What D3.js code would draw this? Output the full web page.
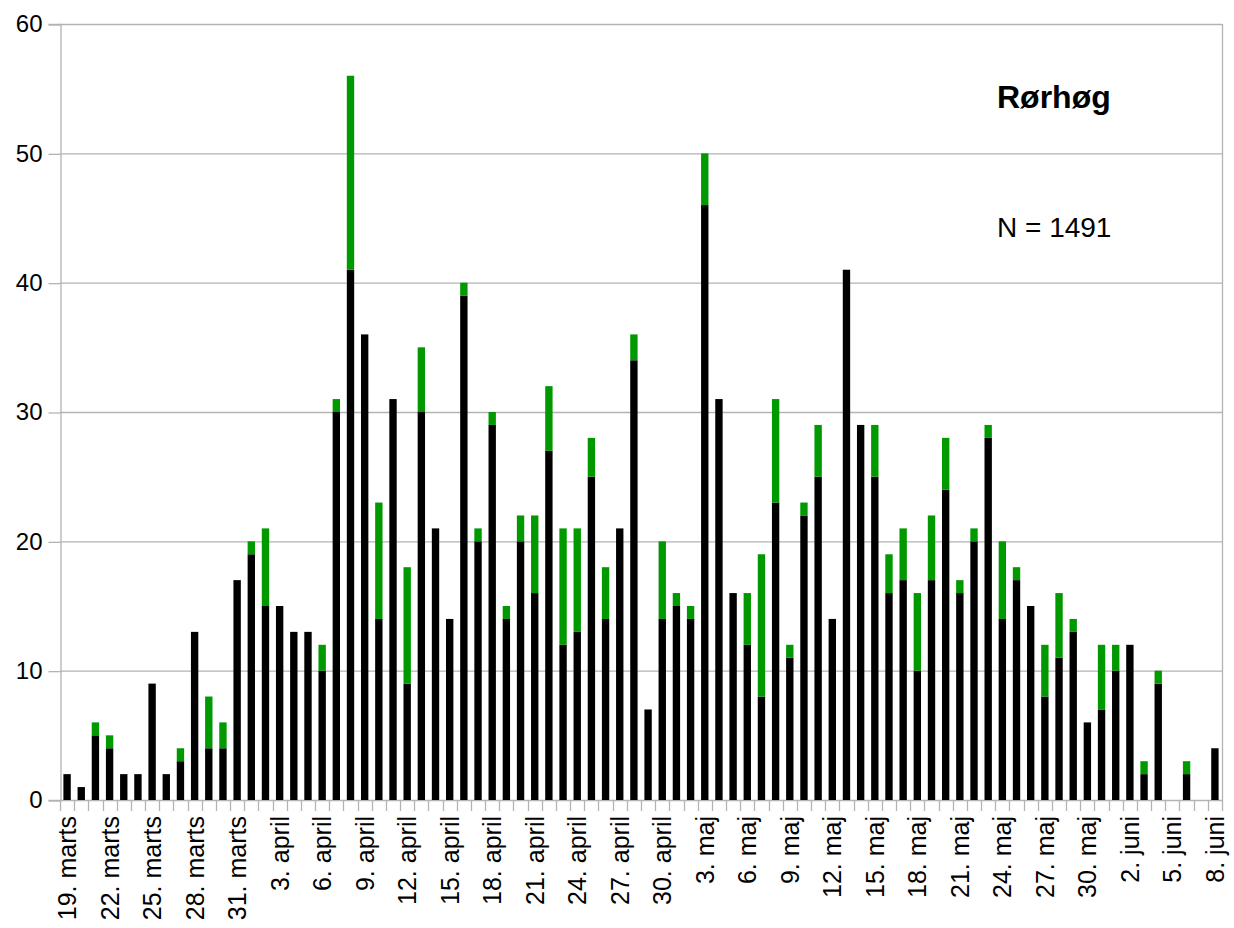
<!DOCTYPE html>
<html>
<head>
<meta charset="utf-8">
<title>Rørhøg</title>
<script src="https://d3js.org/d3.v7.min.js"></script>
<style>
  body { margin: 0; background: #fff; }
  text { font-family: "Liberation Sans", Arial, sans-serif; fill: #000; }
</style>
</head>
<body>
<div id="container"></div>
<script>

// one category per day, 19. marts - 8. juni
var days = [
  "19. marts","20. marts","21. marts","22. marts","23. marts","24. marts","25. marts","26. marts","27. marts","28. marts","29. marts","30. marts","31. marts",
  "1. april","2. april","3. april","4. april","5. april","6. april","7. april","8. april","9. april","10. april","11. april","12. april","13. april","14. april","15. april",
  "16. april","17. april","18. april","19. april","20. april","21. april","22. april","23. april","24. april","25. april","26. april","27. april","28. april","29. april","30. april",
  "1. maj","2. maj","3. maj","4. maj","5. maj","6. maj","7. maj","8. maj","9. maj","10. maj","11. maj","12. maj","13. maj","14. maj","15. maj","16. maj",
  "17. maj","18. maj","19. maj","20. maj","21. maj","22. maj","23. maj","24. maj","25. maj","26. maj","27. maj","28. maj","29. maj","30. maj","31. maj",
  "1. juni","2. juni","3. juni","4. juni","5. juni","6. juni","7. juni","8. juni"
];

// black part of each bar
var blackCounts = [
  2,1,5,4,2,2,9,2,3,13,4,4,17,
  19,15,15,13,13,10,30,41,36,14,31,9,30,21,14,
  39,20,29,14,20,16,27,12,13,25,14,21,34,7,14,
  15,14,46,31,16,12,8,23,11,22,25,14,41,29,25,16,
  17,10,17,24,16,20,28,14,17,15,8,11,13,6,7,
  10,12,2,9,0,2,0,4
];

// green part stacked on top
var greenCounts = [
  0,0,1,1,0,0,0,0,1,0,4,2,0,
  1,6,0,0,0,2,1,15,0,9,0,9,5,0,0,
  1,1,1,1,2,6,5,9,8,3,4,0,2,0,6,
  1,1,4,0,0,4,11,8,1,1,4,0,0,0,4,3,
  4,6,5,4,1,1,1,6,1,0,4,5,1,0,5,
  2,0,1,1,0,1,0,0
];

var yTicks = [0, 10, 20, 30, 40, 50, 60];

var tickLabels = [
  "19. marts","22. marts","25. marts","28. marts","31. marts",
  "3. april","6. april","9. april","12. april","15. april","18. april","21. april","24. april","27. april","30. april",
  "3. maj","6. maj","9. maj","12. maj","15. maj","18. maj","21. maj","24. maj","27. maj","30. maj",
  "2. juni","5. juni","8. juni"
];

var title = "Rørhøg";
var note = "N = 1491";

var width = 1234;
var height = 928;
// plot box (pixels)
var plotLeft = 60, plotRight = 1222, plotTop = 24, plotBottom = 800;
var gridColor = "#b3b3b3";

var svg = d3.select("#container").append("svg")
    .attr("width", width)
    .attr("height", height);

var x = d3.scaleBand()
    .domain(days)
    .range([plotLeft, plotRight])
    .paddingInner(0.48)
    .paddingOuter(0.24);

var y = d3.scaleLinear()
    .domain([0, 60])
    .range([plotBottom, plotTop]);

// horizontal grid
svg.append("g")
    .selectAll("line")
    .data(yTicks)
    .enter().append("line")
    .attr("x1", plotLeft)
    .attr("x2", plotRight)
    .attr("y1", function(d) { return y(d) + 0.5; })
    .attr("y2", function(d) { return y(d) + 0.5; })
    .attr("stroke", gridColor)
    .attr("stroke-width", 1.3);

// y axis with short ticks to the left
var yAxis = svg.append("g")
    .attr("transform", "translate(" + (plotLeft + 0.5) + ",0)")
    .call(d3.axisLeft(y).tickValues(yTicks).tickSize(12).tickPadding(6));
yAxis.select(".domain").attr("stroke", gridColor).attr("stroke-width", 1.3);
yAxis.selectAll(".tick line").attr("stroke", gridColor).attr("stroke-width", 1.3)
    .attr("transform", "translate(0,0.5)");
yAxis.selectAll(".tick text")
    .attr("font-size", "24px")
    .attr("font-family", "Liberation Sans, Arial, sans-serif")
    .attr("fill", "#000");

// right border of the plot
svg.append("line")
    .attr("x1", plotRight + 0.5).attr("x2", plotRight + 0.5)
    .attr("y1", plotTop).attr("y2", plotBottom)
    .attr("stroke", gridColor)
    .attr("stroke-width", 1.3);

// stacked bars
var rows = days.map(function(d, i) {
  return { day: d, black: blackCounts[i], green: greenCounts[i] };
});
var stack = d3.stack().keys(["black", "green"]);
var colors = { black: "#000000", green: "#009900" };

svg.append("g")
    .selectAll("g")
    .data(stack(rows))
    .enter().append("g")
    .attr("fill", function(s) { return colors[s.key]; })
    .selectAll("rect")
    .data(function(s) { return s; })
    .enter().append("rect")
    .attr("x", function(d) { return x(d.data.day); })
    .attr("width", x.bandwidth())
    .attr("y", function(d) { return y(d[1]); })
    .attr("height", function(d) { return y(d[0]) - y(d[1]); });

// x axis tick marks at category boundaries
var step = x.step();
var bounds = days.map(function(d) { return x(d) - (step - x.bandwidth()) / 2; });
bounds.push(plotRight);
svg.append("g")
    .selectAll("line")
    .data(bounds)
    .enter().append("line")
    .attr("x1", function(d) { return Math.round(d) + 0.5; })
    .attr("x2", function(d) { return Math.round(d) + 0.5; })
    .attr("y1", plotBottom)
    .attr("y2", plotBottom + 11)
    .attr("stroke", gridColor)
    .attr("stroke-width", 1.3);

// rotated date labels
var xAxis = svg.append("g")
    .attr("transform", "translate(0," + plotBottom + ")")
    .call(d3.axisBottom(x).tickValues(tickLabels).tickSize(0));
xAxis.select(".domain").remove();
xAxis.selectAll(".tick text")
    .attr("font-size", "25px")
    .attr("font-family", "Liberation Sans, Arial, sans-serif")
    .attr("fill", "#000")
    .attr("text-anchor", "end")
    .attr("transform", "rotate(-90)")
    .attr("x", -16)
    .attr("y", 0)
    .attr("dy", "0.36em");

// title and count
svg.append("text")
    .attr("x", 997)
    .attr("y", 108)
    .attr("font-size", "32px")
    .attr("font-weight", "bold")
    .text(title);

svg.append("text")
    .attr("x", 997)
    .attr("y", 237)
    .attr("font-size", "28px")
    .text(note);

</script>
</body>
</html>
